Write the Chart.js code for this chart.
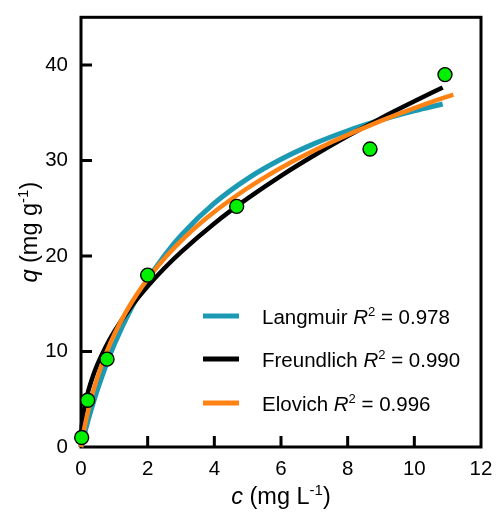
<!DOCTYPE html>
<html>
<head>
<meta charset="utf-8">
<script src="https://cdn.jsdelivr.net/npm/chart.js@4"></script>
<style>
  html, body { margin: 0; padding: 0; background: #fff; }
  #chart { display: block; }
</style>
</head>
<body>
<canvas id="chart" width="497" height="517"></canvas>
<script>
// ── Data ─────────────────────────────────────────────────────
const obsC = [0.02, 0.2, 0.78, 2.0, 4.67, 8.67, 10.92];
const obsQ = [1.0, 4.9, 9.2, 18.0, 25.2, 31.2, 39.0];

const langC = [0, 0.05, 0.1, 0.2, 0.35, 0.5, 0.75, 1, 1.5, 2, 2.5, 3, 4, 5, 6, 7, 8, 9, 10, 10.85];
const langQ = [0, 0.69, 1.35, 2.63, 4.42, 6.07, 8.56, 10.76, 14.48, 17.52, 20.03, 22.15, 25.53, 28.11, 30.13, 31.77, 33.12, 34.25, 35.21, 35.92];

const freuC = [0, 0.01, 0.05, 0.1, 0.2, 0.35, 0.5, 0.75, 1, 1.5, 2, 2.5, 3, 4, 5, 6, 7, 8, 9, 10, 10.85];
const freuQ = [0, 1.35, 2.91, 4.04, 5.63, 7.34, 8.70, 10.55, 12.10, 14.68, 16.83, 18.72, 20.41, 23.41, 26.03, 28.40, 30.55, 32.56, 34.44, 36.20, 37.65];

const eloC = [0, 0.049, 0.103, 0.163, 0.228, 0.300, 0.379, 0.559, 0.773, 1.027, 1.326, 1.677, 2.088, 2.568, 3.127, 3.776, 4.528, 5.397, 6.399, 7.557, 8.887, 10.414, 11.17];
const eloQ = [0, 1, 2, 3, 4, 5, 6, 8, 10, 12, 14, 16, 18, 20, 22, 24, 26, 28, 30, 32, 34, 36, 36.9];

const xTicks = [2, 4, 6, 8, 10];
const yTicks = [10, 20, 30, 40];

const legendItems = [
  { name: "Langmuir",   r2: "0.978", color: "#1C9AB4" },
  { name: "Freundlich", r2: "0.990", color: "#000000" },
  { name: "Elovich",    r2: "0.996", color: "#FF8314" },
];

const FONT = "'Liberation Sans', Arial, sans-serif";
const FS = 20.5;

const pts = (xs, ys) => xs.map((x, i) => ({ x, y: ys[i] }));

// ── Rich text helper (italic / superscript runs) ─────────────
function setFont(ctx, p, size) {
  ctx.font = (p.italic ? "italic " : "") + (p.sup ? Math.round(size * 0.65) : size) + "px " + FONT;
}
function richWidth(ctx, parts, size) {
  let w = 0;
  parts.forEach(p => { setFont(ctx, p, size); w += ctx.measureText(p.t).width; });
  return w;
}
function drawRich(ctx, parts, x, y, size) {
  ctx.textBaseline = "alphabetic";
  ctx.textAlign = "left";
  parts.forEach(p => {
    setFont(ctx, p, size);
    ctx.fillText(p.t, x, p.sup ? y - size * 0.38 : y);
    x += ctx.measureText(p.t).width;
  });
}

// ── Frame, inward ticks, titles, legend ──────────────────────
const decor = {
  id: "decor",
  beforeDatasetsDraw(chart) {
    const { ctx, chartArea: a, scales } = chart;
    ctx.save();
    ctx.strokeStyle = "#000";
    ctx.lineWidth = 3;
    ctx.strokeRect(a.left, a.top, a.right - a.left, a.bottom - a.top);
    ctx.beginPath();
    xTicks.forEach(v => {
      const x = scales.x.getPixelForValue(v);
      ctx.moveTo(x, a.bottom); ctx.lineTo(x, a.bottom - 11);
    });
    yTicks.forEach(v => {
      const y = scales.y.getPixelForValue(v);
      ctx.moveTo(a.left, y); ctx.lineTo(a.left + 11, y);
    });
    ctx.stroke();
    ctx.restore();
  },
  afterDraw(chart) {
    const { ctx, chartArea: a } = chart;
    const TS = 23.5;
    ctx.save();
    ctx.fillStyle = "#000";

    // x title
    const xt = [{ t: "c", italic: true }, { t: " (mg L" }, { t: "-1", sup: true }, { t: ")" }];
    const xw = richWidth(ctx, xt, TS);
    drawRich(ctx, xt, (a.left + a.right) / 2 - xw / 2, 504, TS);

    // y title
    const yt = [{ t: "q", italic: true }, { t: " (mg g" }, { t: "-1", sup: true }, { t: ")" }];
    const yw = richWidth(ctx, yt, TS);
    ctx.translate(37, (a.top + a.bottom) / 2);
    ctx.rotate(-Math.PI / 2);
    drawRich(ctx, yt, -yw / 2, 0, TS);
    ctx.setTransform(1, 0, 0, 1, 0, 0);

    // legend
    const rows = [316, 359, 403];
    legendItems.forEach((it, i) => {
      const y = rows[i];
      ctx.strokeStyle = it.color;
      ctx.lineWidth = 5;
      ctx.beginPath();
      ctx.moveTo(203, y); ctx.lineTo(239, y);
      ctx.stroke();
      drawRich(ctx, [
        { t: it.name + " " }, { t: "R", italic: true }, { t: "2", sup: true }, { t: " = " + it.r2 }
      ], 262, y + 7.5, FS);
    });
    ctx.restore();
  }
};

new Chart(document.getElementById("chart"), {
  type: "scatter",
  data: {
    datasets: [
      {
        label: "Experimental",
        data: pts(obsC, obsQ),
        backgroundColor: "#00F000",
        borderColor: "#000",
        borderWidth: 1.4,
        pointRadius: 7,
        pointHoverRadius: 7,
        clip: false,
        order: 0,
      },
      {
        label: "Elovich",
        data: pts(eloC, eloQ),
        showLine: true,
        borderColor: legendItems[2].color,
        borderWidth: 4.5,
        pointRadius: 0,
        cubicInterpolationMode: "monotone",
        clip: false,
        order: 1,
      },
      {
        label: "Freundlich",
        data: pts(freuC, freuQ),
        showLine: true,
        borderColor: legendItems[1].color,
        borderWidth: 4.5,
        pointRadius: 0,
        cubicInterpolationMode: "monotone",
        clip: false,
        order: 2,
      },
      {
        label: "Langmuir",
        data: pts(langC, langQ),
        showLine: true,
        borderColor: legendItems[0].color,
        borderWidth: 5,
        pointRadius: 0,
        cubicInterpolationMode: "monotone",
        clip: false,
        order: 3,
      },
    ]
  },
  options: {
    responsive: false,
    animation: false,
    events: [],
    layout: { padding: { left: 0, top: 12, right: 16, bottom: 0 } },
    plugins: { legend: { display: false }, tooltip: { enabled: false } },
    scales: {
      x: {
        type: "linear", min: 0, max: 12,
        grid: { display: false }, border: { display: false },
        ticks: { stepSize: 2, color: "#000", font: { family: FONT, size: FS }, padding: 2, maxRotation: 0 },
        afterFit: s => { s.height = 70; }
      },
      y: {
        type: "linear", min: 0, max: 45,
        grid: { display: false }, border: { display: false },
        ticks: {
          stepSize: 10, color: "#000", font: { family: FONT, size: FS }, padding: 5,
          callback: v => (v % 10 === 0 ? v : "")
        },
        afterFit: s => { s.width = 81; }
      }
    }
  },
  plugins: [decor]
});
</script>
</body>
</html>
